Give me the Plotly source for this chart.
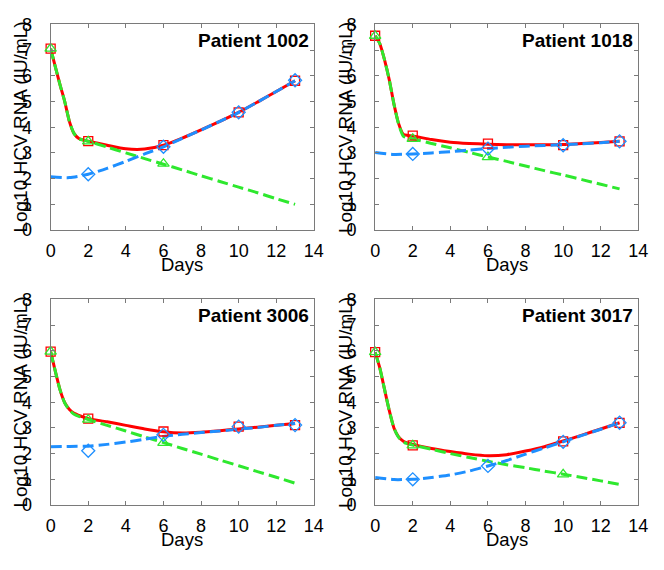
import plotly.graph_objects as go

# ---------------- data ----------------
patients = ["Patient 1002", "Patient 1018", "Patient 3006", "Patient 3017"]

days_fine = [0, 0.25, 0.5, 0.75, 1, 1.25, 1.5, 1.75, 2, 3, 4, 5, 6, 7, 8, 9, 10, 11, 12, 13]
days_int = [0, 1, 2, 3, 4, 5, 6, 7, 8, 9, 10, 11, 12, 13]

total_1002 = [7.06, 6.35, 5.65, 5.0, 4.22, 3.75, 3.56, 3.5, 3.46, 3.3, 3.16, 3.15, 3.3, 3.58, 3.9, 4.23, 4.58, 4.98, 5.39, 5.81]
wild_1002 = [7.06, 6.35, 5.65, 5.0, 4.22, 3.75, 3.55, 3.5, 3.45, 3.23, 3.0, 2.78, 2.56, 2.34, 2.11, 1.89, 1.67, 1.45, 1.22, 1.0]
resist_1002 = [2.07, 2.04, 2.17, 2.4, 2.67, 2.96, 3.24, 3.57, 3.89, 4.23, 4.58, 4.98, 5.39, 5.81]

total_1018 = [7.56, 7.25, 6.62, 5.85, 4.9, 4.14, 3.72, 3.68, 3.66, 3.52, 3.42, 3.37, 3.34, 3.32, 3.32, 3.32, 3.33, 3.37, 3.41, 3.45]
wild_1018 = [7.56, 7.25, 6.62, 5.85, 4.9, 4.12, 3.65, 3.58, 3.55, 3.37, 3.2, 3.02, 2.84, 2.67, 2.49, 2.31, 2.14, 1.96, 1.78, 1.6]
resist_1018 = [3.02, 2.94, 2.96, 3.0, 3.05, 3.11, 3.17, 3.22, 3.26, 3.29, 3.32, 3.36, 3.4, 3.45]

total_3006 = [5.97, 5.2, 4.48, 3.98, 3.72, 3.57, 3.49, 3.42, 3.36, 3.24, 3.1, 2.96, 2.85, 2.8, 2.83, 2.89, 2.96, 3.03, 3.1, 3.17]
wild_3006 = [5.97, 5.2, 4.48, 3.97, 3.7, 3.53, 3.45, 3.39, 3.33, 3.1, 2.88, 2.65, 2.43, 2.2, 1.98, 1.75, 1.53, 1.3, 1.08, 0.85]
resist_3006 = [2.27, 2.28, 2.29, 2.36, 2.45, 2.56, 2.67, 2.75, 2.82, 2.88, 2.95, 3.02, 3.1, 3.17]

total_3017 = [5.95, 5.33, 4.5, 3.68, 3.0, 2.65, 2.48, 2.41, 2.36, 2.2, 2.08, 1.98, 1.92, 1.96, 2.1, 2.27, 2.49, 2.72, 2.96, 3.2]
wild_3017 = [5.95, 5.33, 4.5, 3.68, 3.0, 2.63, 2.45, 2.38, 2.33, 2.17, 2.0, 1.85, 1.7, 1.57, 1.45, 1.32, 1.2, 1.07, 0.94, 0.8]
resist_3017 = [1.07, 0.99, 1.0, 1.07, 1.17, 1.32, 1.52, 1.73, 1.98, 2.22, 2.46, 2.71, 2.95, 3.2]

# observed data markers
obs_total_days = [[0, 2, 6, 10, 13], [0, 2, 6, 10, 13], [0, 2, 6, 10, 13], [0, 2, 10, 13]]
obs_total_vals = [[7.06, 3.46, 3.3, 4.58, 5.81], [7.56, 3.67, 3.36, 3.3, 3.45],
                  [5.97, 3.36, 2.86, 3.05, 3.11], [5.95, 2.32, 2.48, 3.2]]
obs_wild_days = [[0, 2, 6], [0, 2, 6], [0, 2, 6], [0, 2, 10]]
obs_wild_vals = [[7.06, 3.45, 2.58], [7.56, 3.55, 2.84], [5.97, 3.32, 2.42], [5.95, 2.32, 1.19]]
obs_resist_days = [[2, 6, 10, 13], [2, 6, 10, 13], [2, 6, 10, 13], [2, 6, 10, 13]]
obs_resist_vals = [[2.17, 3.24, 4.58, 5.83], [2.96, 3.17, 3.3, 3.45],
                   [2.11, 2.73, 3.05, 3.11], [1.0, 1.52, 2.46, 3.2]]

totals = [total_1002, total_1018, total_3006, total_3017]
wilds = [wild_1002, wild_1018, wild_3006, wild_3017]
resists = [resist_1002, resist_1018, resist_3006, resist_3017]

x_ticks = [0, 2, 4, 6, 8, 10, 12, 14]
y_ticks = [0, 1, 2, 3, 4, 5, 6, 7, 8]

# ---------------- layout geometry (pixels) ----------------
W, H = 664, 570
RED = "#ff0000"
GREEN = "#2ee82e"
BLUE = "#1e8fff"
AXC = "#7a7a7a"
FONT = "Liberation Sans, Arial, sans-serif"

boxes = [  # left, right, top, bottom in px
    (46.7, 316, 15, 228),
    (378.7, 648, 15, 228),
    (46.7, 316, 300, 513),
    (378.7, 648, 300, 513),
]

fig = go.Figure()
annotations = []
layout_axes = {}

for i in range(4):
    xa = "x" if i == 0 else f"x{i+1}"
    ya = "y" if i == 0 else f"y{i+1}"
    l, r, t, b = boxes[i]
    # total (solid red) under the others
    fig.add_trace(go.Scatter(x=days_fine, y=totals[i], mode="lines",
                             line=dict(color=RED, width=3, shape="spline", smoothing=0.6),
                             xaxis=xa, yaxis=ya, showlegend=False, hoverinfo="skip"))
    fig.add_trace(go.Scatter(x=days_fine, y=wilds[i], mode="lines",
                             line=dict(color=GREEN, width=3, dash="11px,5px", shape="spline", smoothing=0.6),
                             xaxis=xa, yaxis=ya, showlegend=False, hoverinfo="skip"))
    fig.add_trace(go.Scatter(x=days_int, y=resists[i], mode="lines",
                             line=dict(color=BLUE, width=3, dash="11px,5px", shape="spline", smoothing=0.6),
                             xaxis=xa, yaxis=ya, showlegend=False, hoverinfo="skip"))
    fig.add_trace(go.Scatter(x=obs_total_days[i], y=obs_total_vals[i], mode="markers",
                             marker=dict(symbol="square-open", size=9, color=RED, line=dict(width=1.3)),
                             xaxis=xa, yaxis=ya, showlegend=False, cliponaxis=False))
    fig.add_trace(go.Scatter(x=obs_wild_days[i], y=obs_wild_vals[i], mode="markers",
                             marker=dict(symbol="triangle-up-open", size=10, color=GREEN, line=dict(width=1.3)),
                             xaxis=xa, yaxis=ya, showlegend=False, cliponaxis=False))
    fig.add_trace(go.Scatter(x=obs_resist_days[i], y=obs_resist_vals[i], mode="markers",
                             marker=dict(symbol="diamond-open", size=10, color=BLUE, line=dict(width=1.3)),
                             xaxis=xa, yaxis=ya, showlegend=False, cliponaxis=False))

    common = dict(showline=True, linecolor=AXC, linewidth=1, mirror="ticks", ticks="inside",
                  ticklen=4, tickcolor=AXC, showgrid=False, zeroline=False,
                  tickfont=dict(family=FONT, size=18, color="#000"))
    layout_axes["xaxis" if i == 0 else f"xaxis{i+1}"] = dict(
        common, domain=[l / W, r / W], range=[0, 14], tickvals=x_ticks,
        anchor=ya, ticklabelstandoff=4)
    layout_axes["yaxis" if i == 0 else f"yaxis{i+1}"] = dict(
        common, domain=[1 - b / H, 1 - t / H], range=[0, 8], tickvals=y_ticks,
        anchor=xa, ticklabelstandoff=14)

    annotations.append(dict(text="<b>" + patients[i] + "</b>", xref="paper", yref="paper",
                            x=(r - 3) / W, y=1 - (t + 17) / H, xanchor="right", yanchor="middle",
                            showarrow=False, font=dict(family=FONT, size=19, color="#000")))
    annotations.append(dict(text="Days", xref="paper", yref="paper",
                            x=(l + r) / 2 / W, y=1 - (b + 36) / H, xanchor="center", yanchor="middle",
                            showarrow=False, font=dict(family=FONT, size=18.5, color="#000")))
    annotations.append(dict(text="Log10 HCV RNA (IU/mL)", xref="paper", yref="paper",
                            x=(l - 31) / W, y=1 - (t + b) / 2 / H, xanchor="center", yanchor="middle",
                            textangle=-90, showarrow=False,
                            font=dict(family=FONT, size=19, color="#000")))

fig.update_layout(width=W, height=H, margin=dict(l=0, r=0, t=0, b=0),
                  paper_bgcolor="white", plot_bgcolor="white", showlegend=False,
                  annotations=annotations, **layout_axes)

# remove the browser's default 8px page margin so the figure sits at the window origin
fig.write_html("out.html", config={"displayModeBar": False},
               post_script="document.body.style.margin='0px';")
